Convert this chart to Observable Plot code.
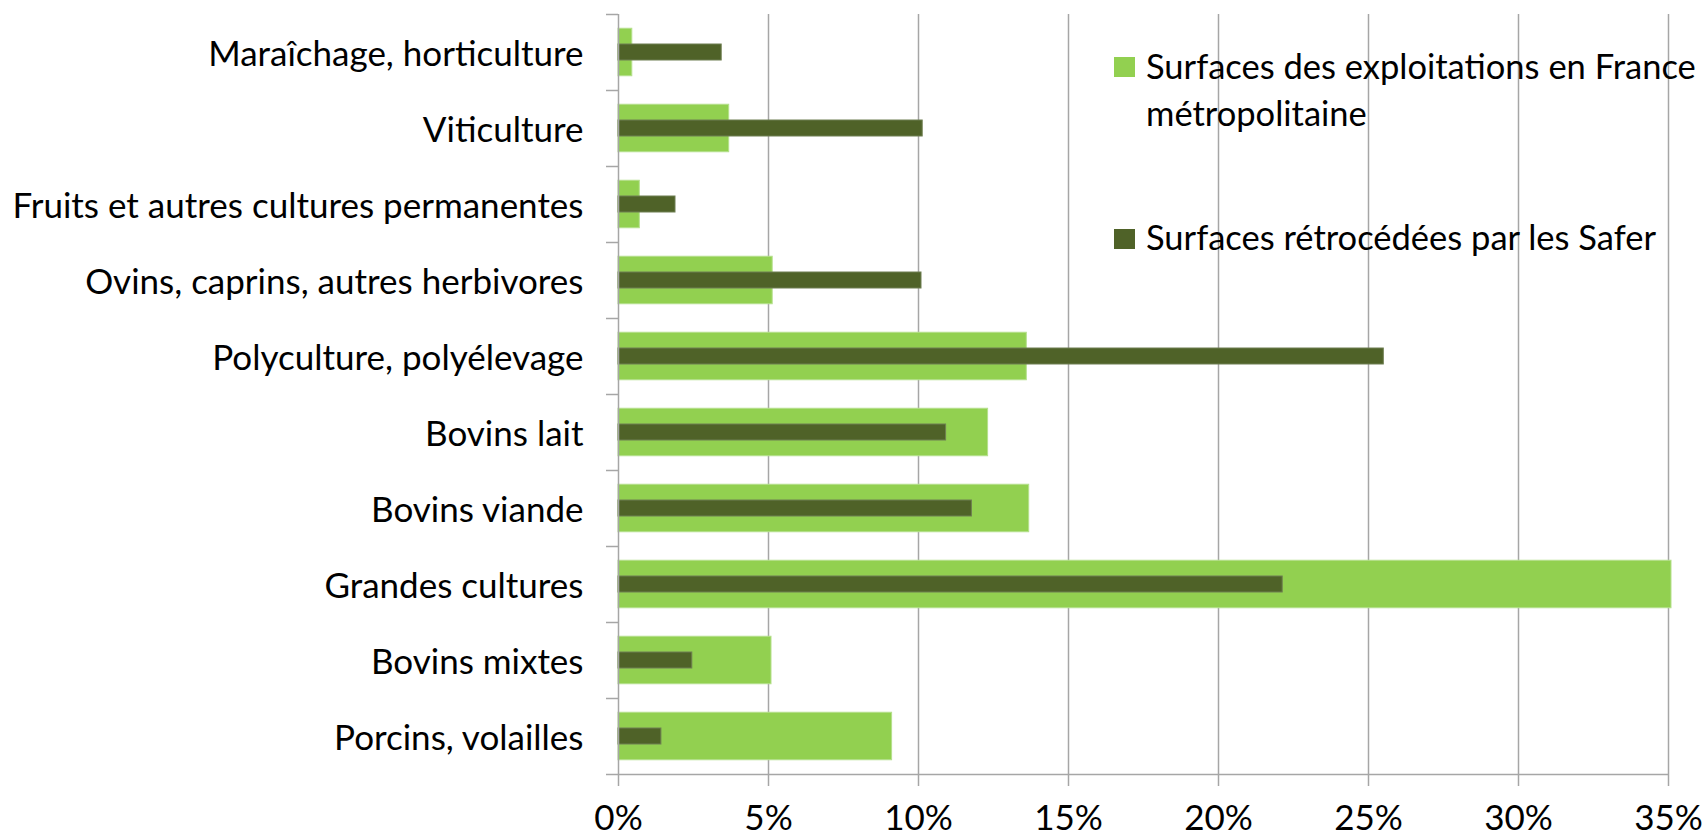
<!DOCTYPE html>
<html><head><meta charset="utf-8">
<script src="https://cdn.jsdelivr.net/npm/d3@7"></script>
<script src="https://cdn.jsdelivr.net/npm/@observablehq/plot@0.6"></script>
<style>
body{margin:0;background:#fff;font-family:Lato,sans-serif;}
#wrap{position:relative;width:1702px;height:839px;overflow:hidden;background:#fff;}
.leg{position:absolute;font-size:34.5px;color:#000;line-height:47px;white-space:nowrap;}
.sw{position:absolute;width:21px;height:20px;}
</style></head><body><div id="wrap"></div>
<script>
const categories = [
  "Maraîchage, horticulture",
  "Viticulture",
  "Fruits et autres cultures permanentes",
  "Ovins, caprins, autres herbivores",
  "Polyculture, polyélevage",
  "Bovins lait",
  "Bovins viande",
  "Grandes cultures",
  "Bovins mixtes",
  "Porcins, volailles"
];
const exploitations = [0.46, 3.69, 0.71, 5.14, 13.61, 12.32, 13.69, 35.1, 5.10, 9.12];
const retrocedees   = [3.44, 10.14, 1.90, 10.10, 25.51, 10.92, 11.78, 22.14, 2.46, 1.43];
const xTicks = [0, 5, 10, 15, 20, 25, 30, 35];
const seriesNames = ["Surfaces des exploitations en France\nmétropolitaine", "Surfaces rétrocédées par les Safer"];
const seriesColors = ["#92D050", "#4F6228"];

const W = 1702, H = 839, mL = 618, mR = 34, mT = 14, mB = 65;
const bandH = (H - mT - mB) / categories.length;
const gridColor = "#a6a6a6";
const rows = categories.map((c, i) => ({cat: c, expl: exploitations[i], retro: retrocedees[i]}));

const chart = Plot.plot({
  width: W, height: H,
  marginLeft: mL, marginRight: mR, marginTop: mT, marginBottom: mB,
  style: {fontFamily: "Lato, sans-serif", fontSize: "35px", color: "#000", background: "#fff", overflow: "visible"},
  x: {domain: [0, 35]},
  y: {domain: categories, padding: 0},
  marks: [
    Plot.ruleX(xTicks.slice(1), {stroke: gridColor, strokeWidth: 1.5}),
    Plot.barX(rows, {y: "cat", x: "expl", fill: seriesColors[0], stroke: "#b5e08c", strokeWidth: 1, insetTop: 14.25, insetBottom: 14.25}),
    Plot.barX(rows, {y: "cat", x: "retro", fill: seriesColors[1], stroke: "#6f7f52", strokeWidth: 1, insetTop: 30, insetBottom: 30}),
    Plot.ruleX([0], {stroke: gridColor, strokeWidth: 1.5}),
    Plot.ruleY(categories, {y: d => d, x1: -0.4, x2: 0, dy: -bandH / 2, stroke: gridColor, strokeWidth: 1.5}),
    Plot.ruleY(categories.slice(-1), {y: d => d, x1: -0.4, x2: 35, dy: bandH / 2, stroke: gridColor, strokeWidth: 1.5}),
    Plot.axisX({ticks: xTicks, tickFormat: d => d + "%", tickSize: 12, tickPadding: 19, stroke: gridColor, strokeWidth: 1.5, fill: "#000", label: null}),
    Plot.axisY({tickSize: 0, tickPadding: 35, dy: 2, fill: "#000", label: null})
  ]
});
const wrap = document.getElementById("wrap");
wrap.appendChild(chart);

// legend (HTML overlay inside plot area)
const legPos = [{sx: 1114, sy: 57, tx: 1146, ty: 42}, {sx: 1114, sy: 229, tx: 1146, ty: 213}];
seriesNames.forEach((name, i) => {
  const sw = document.createElement("div");
  sw.className = "sw";
  sw.style.left = legPos[i].sx + "px";
  sw.style.top = legPos[i].sy + "px";
  sw.style.background = seriesColors[i];
  wrap.appendChild(sw);
  const t = document.createElement("div");
  t.className = "leg";
  t.style.left = legPos[i].tx + "px";
  t.style.top = legPos[i].ty + "px";
  t.innerHTML = name.split("\n").join("<br>");
  wrap.appendChild(t);
});
</script>
</body></html>
